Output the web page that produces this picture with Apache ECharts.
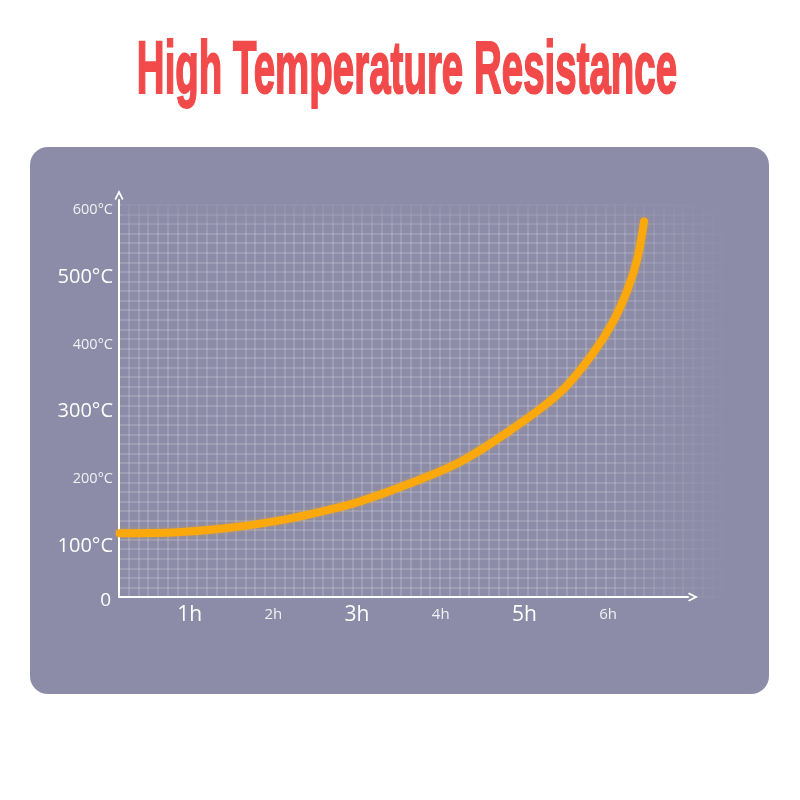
<!DOCTYPE html>
<html>
<head>
<meta charset="utf-8">
<script src="https://cdn.jsdelivr.net/npm/echarts@6/dist/echarts.min.js"></script>
<style>html,body{margin:0;padding:0;background:#fff;}#c{width:800px;height:800px;}</style>
</head>
<body>
<div id="c"></div>
<script>
// ---- data ----
var titleText = 'High Temperature Resistance';
var hours = [0.163, 0.8, 1.48, 2.08, 2.67, 3.03, 3.63, 4.23, 4.83, 5.43, 5.82, 6.06, 6.24, 6.35, 6.43];
var temps = [119, 120, 127, 138, 154, 166, 193, 225, 272, 329, 387, 434, 484, 528, 583];
var xTickValues = [1, 2, 3, 4, 5, 6];
var xTickLabels = ['1h', '2h', '3h', '4h', '5h', '6h'];
var yTickValues = [100, 200, 300, 400, 500, 600];
var yTickLabels = ['100°C', '200°C', '300°C', '400°C', '500°C', '600°C'];
var originLabel = '0';
var xMin = 0.156, xMax = 6.955;
var yMin = 24, yMax = 615;

var PANEL = '#8c8ca8';
var FONT = '"Open Sans", "Noto Sans", sans-serif';
var chart = echarts.init(document.getElementById('c'), null, {renderer: 'canvas'});

var seriesData = hours.map(function (h, i) { return [h, temps[i]]; });
var arrowPath = 'path://M0,10 L5,0 L10,10 L8.5,11.2 L5,4.4 L1.5,11.2 Z';

function bigOrSmall(idx) { return idx % 2 === 0 ? 'b' : 's'; }

var option = {
  backgroundColor: '#ffffff',
  animation: false,
  grid: [
    {left: 119, right: 112, top: 200, bottom: 203, containLabel: false},
    {left: 119, right: 78, top: 205, bottom: 203, containLabel: false}
  ],
  xAxis: [
    {
      type: 'value', gridIndex: 0, min: xMin, max: xMax, z: 3,
      axisLine: {show: true, onZero: false, symbol: ['none', arrowPath], symbolSize: [16, 10], symbolOffset: [0, 5],
        lineStyle: {color: '#ffffff', width: 2}},
      axisTick: {show: false},
      splitLine: {show: false},
      axisLabel: {
        customValues: xTickValues, margin: 5, fontFamily: FONT,
        formatter: function (v) {
          var i = xTickValues.indexOf(v);
          return '{' + bigOrSmall(i) + '|' + xTickLabels[i] + '}';
        },
        rich: {
          b: {fontSize: 21, color: '#ffffff', fontFamily: FONT, lineHeight: 26},
          s: {fontSize: 15, color: 'rgba(255,255,255,0.88)', fontFamily: FONT, lineHeight: 26}
        }
      }
    },
    {
      type: 'value', gridIndex: 1, min: 0, max: 62, interval: 1, z: 1,
      axisLine: {show: false}, axisTick: {show: false}, axisLabel: {show: false},
      splitLine: {show: true, lineStyle: {color: 'rgba(255,255,255,0.2)', width: 1.5}}
    }
  ],
  yAxis: [
    {
      type: 'value', gridIndex: 0, min: yMin, max: yMax, z: 3,
      axisLine: {show: true, onZero: false, symbol: ['none', arrowPath], symbolSize: [16, 10], symbolOffset: [0, 5],
        lineStyle: {color: '#ffffff', width: 2}},
      axisTick: {show: false},
      splitLine: {show: false},
      axisLabel: {
        customValues: [yMin].concat(yTickValues), margin: 6, fontFamily: FONT,
        formatter: function (v) {
          if (v === yMin) return '{z|' + originLabel + '}';
          var i = yTickValues.indexOf(v);
          return '{' + bigOrSmall(i) + '|' + yTickLabels[i] + '}';
        },
        rich: {
          b: {fontSize: 20, color: '#ffffff', fontFamily: FONT},
          s: {fontSize: 14.5, color: 'rgba(255,255,255,0.88)', fontFamily: FONT},
          z: {fontSize: 19, color: '#ffffff', fontFamily: FONT, padding: [8, 2, 0, 0]}
        }
      }
    },
    {
      type: 'value', gridIndex: 1, min: 0, max: 41, interval: 1, z: 1,
      axisLine: {show: false}, axisTick: {show: false}, axisLabel: {show: false},
      splitLine: {show: true, lineStyle: {color: 'rgba(255,255,255,0.2)', width: 1.5}}
    }
  ],
  series: [{
    type: 'line', xAxisIndex: 0, yAxisIndex: 0, z: 5,
    data: seriesData, smooth: 0.35, showSymbol: false,
    lineStyle: {color: '#fba80c', width: 8, cap: 'round', shadowColor: 'rgba(251,168,12,0.35)', shadowBlur: 4}
  }],
  graphic: [
    {type: 'rect', z: -10, shape: {x: 30, y: 147, width: 739, height: 547, r: 18}, style: {fill: PANEL}},
    {type: 'rect', z: 2, shape: {x: 600, y: 195, width: 130, height: 410},
      style: {fill: new echarts.graphic.LinearGradient(0, 0, 1, 0, [
        {offset: 0, color: 'rgba(140,140,168,0)'}, {offset: 1, color: 'rgba(140,140,168,1)'}])}},
    {type: 'rect', z: 2, shape: {x: 121, y: 195, width: 610, height: 40},
      style: {fill: new echarts.graphic.LinearGradient(0, 0, 0, 1, [
        {offset: 0, color: 'rgba(140,140,168,1)'}, {offset: 1, color: 'rgba(140,140,168,0)'}])}},
    {type: 'text', z: 10, x: 407, y: 73, scaleX: 0.52, scaleY: 1,
      style: {text: titleText, x: 0, y: 0, align: 'center', verticalAlign: 'middle',
        fill: '#f24a4a', font: 'bold 74px "Liberation Sans", Arial, sans-serif',
        stroke: '#f24a4a', lineWidth: 2}}
  ]
};
chart.setOption(option);
</script>
</body>
</html>
